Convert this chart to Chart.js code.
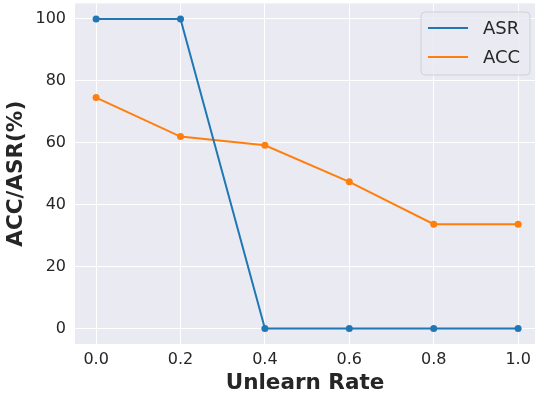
<!DOCTYPE html>
<html>
<head>
<meta charset="utf-8">
<script src="https://cdn.jsdelivr.net/npm/chart.js@4.4.0/dist/chart.umd.min.js"></script>
<style>
  html, body { margin: 0; padding: 0; background: #fff; }
  #chart { display: block; }
</style>
</head>
<body>
<canvas id="chart" width="535" height="396"></canvas>
<script>
// data
const rates = [0.0, 0.2, 0.4, 0.6, 0.8, 1.0];
const asr = [100, 100, 0, 0, 0, 0];
const acc = [74.6, 62.0, 59.2, 47.4, 33.7, 33.7];
const xTicks = [0.0, 0.2, 0.4, 0.6, 0.8, 1.0];
const yTicks = [0, 20, 40, 60, 80, 100];
const seriesNames = ['ASR', 'ACC'];

const FONT = 'DejaVu Sans';
const TEXT = '#262626';
const colors = ['#1f77b4', '#ff7f0e'];

// seaborn-like background for the plot area
const bgPlugin = {
  id: 'bg',
  beforeDraw(chart) {
    const { ctx, chartArea: a } = chart;
    ctx.save();
    ctx.fillStyle = '#ffffff';
    ctx.fillRect(0, 0, chart.width, chart.height);
    ctx.fillStyle = '#eaeaf2';
    ctx.fillRect(a.left, a.top, a.right - a.left, a.bottom - a.top);
    ctx.restore();
  }
};

// matplotlib style legend box in the upper right
const legendBox = {
  id: 'legendBox',
  afterDatasetsDraw(chart) {
    const { ctx, chartArea: a } = chart;
    const w = 109, h = 63;
    const x = a.right - 5 - w, y = a.top + 8.5;
    ctx.save();
    ctx.beginPath();
    ctx.roundRect(x, y, w, h, 4);
    ctx.fillStyle = 'rgba(234,234,242,0.8)';
    ctx.fill();
    ctx.strokeStyle = '#d0d0d6';
    ctx.lineWidth = 1;
    ctx.stroke();
    ctx.font = '18px "' + FONT + '"';
    ctx.textBaseline = 'middle';
    chart.data.datasets.forEach((ds, i) => {
      const ly = y + 16 + i * 29;
      ctx.strokeStyle = ds.borderColor;
      ctx.lineWidth = 2;
      ctx.beginPath();
      ctx.moveTo(x + 7, ly);
      ctx.lineTo(x + 47, ly);
      ctx.stroke();
      ctx.fillStyle = TEXT;
      ctx.fillText(ds.label, x + 62, ly + 1);
    });
    ctx.restore();
  }
};

const ctx = document.getElementById('chart').getContext('2d');
new Chart(ctx, {
  type: 'line',
  data: {
    datasets: [asr, acc].map((vals, i) => ({
      label: seriesNames[i],
      data: rates.map((r, j) => ({ x: r, y: vals[j] })),
      borderColor: colors[i],
      backgroundColor: colors[i],
      borderWidth: 2,
      pointRadius: 3.5,
      pointBorderWidth: 0,
      tension: 0,
      fill: false
    }))
  },
  options: {
    responsive: false,
    animation: false,
    layout: { autoPadding: false, padding: { top: 3.5, right: 0, left: 0, bottom: 0 } },
    plugins: {
      legend: { display: false },
      tooltip: { enabled: false }
    },
    scales: {
      x: {
        type: 'linear',
        min: -0.05,
        max: 1.04,
        afterBuildTicks: s => { s.ticks = xTicks.map(v => ({ value: v })); },
        afterFit: s => { s.height = 52; s.paddingLeft = 0; s.paddingRight = 0; },
        grid: { color: '#ffffff', lineWidth: 1, drawTicks: false },
        border: { display: false },
        ticks: {
          padding: 6.5,
          color: TEXT,
          font: { family: FONT, size: 16, lineHeight: 1.2 },
          callback: v => v.toFixed(1)
        },
        title: {
          display: true,
          text: 'Unlearn Rate',
          color: TEXT,
          font: { family: FONT, size: 21.5, weight: 'bold', lineHeight: 1.2 },
          padding: { top: 0, bottom: 0 }
        }
      },
      y: {
        min: -5,
        max: 105,
        afterBuildTicks: s => { s.ticks = yTicks.map(v => ({ value: v })); },
        afterFit: s => { s.width = 75; s.paddingTop = 0; s.paddingBottom = 0; },
        grid: { color: '#ffffff', lineWidth: 1, drawTicks: false },
        border: { display: false },
        ticks: {
          padding: 9,
          color: TEXT,
          font: { family: FONT, size: 16, lineHeight: 1.2 },
          callback: v => String(v)
        },
        title: {
          display: true,
          text: 'ACC/ASR(%)',
          color: TEXT,
          font: { family: FONT, size: 21.5, weight: 'bold', lineHeight: 1.2 },
          padding: { top: 4, bottom: 0 }
        }
      }
    }
  },
  plugins: [bgPlugin, legendBox]
});
</script>
</body>
</html>
